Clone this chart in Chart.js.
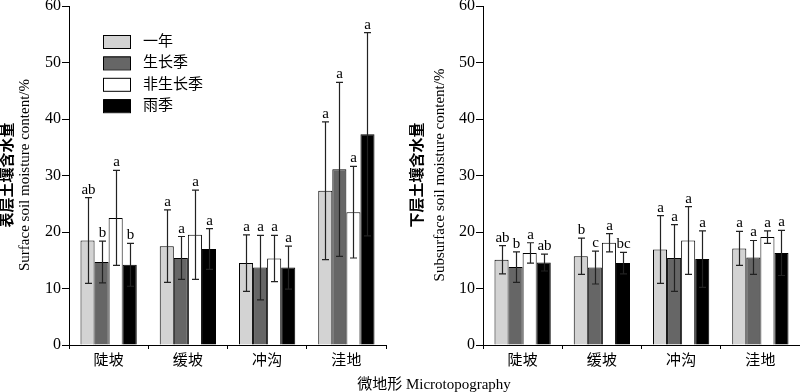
<!DOCTYPE html>
<html>
<head>
<meta charset="utf-8">
<script src="https://cdn.jsdelivr.net/npm/chart.js@4/dist/chart.umd.min.js"></script>
<style>
  body { margin: 0; background: #fff; }
  #wrap { position: relative; width: 800px; height: 392px; overflow: hidden; }
  .panel { position: absolute; top: 0; width: 400px; height: 392px; }
  #xTitle {
    position: absolute; left: 0; width: 868px; top: 372px; text-align: center;
    font: 15px "Liberation Serif", "Noto Sans CJK SC", serif; color: #000;
  }
</style>
</head>
<body>
<div id="wrap">
  <div class="panel" style="left:0"><canvas id="surface" width="400" height="392"></canvas></div>
  <div class="panel" style="left:400px"><canvas id="subsurface" width="400" height="392"></canvas></div>
  <div id="xTitle">微地形 Microtopography</div>
</div>
<script>
const categories = ["陡坡", "缓坡", "冲沟", "洼地"];
const seasons = ["一年", "生长季", "非生长季", "雨季"];
const seasonColors = ["#d3d3d3", "#666666", "#ffffff", "#000000"];

// rows = seasons, columns = microtopography
const surfaceMean = [
  [18.5, 17.5, 14.5, 27.3],
  [14.7, 15.4, 13.7, 31.1],
  [22.5, 19.5, 15.3, 23.5],
  [14.2, 17.0, 13.7, 37.3]
];
const surfaceSD = [
  [7.6, 6.4, 5.0, 12.2],
  [3.7, 3.8, 5.7, 15.4],
  [8.4, 7.9, 4.1, 8.1],
  [3.8, 3.6, 3.8, 18.0]
];
const surfaceLetters = [
  ["ab", "a", "a", "a"],
  ["b", "a", "a", "a"],
  ["a", "a", "a", "a"],
  ["b", "a", "a", "a"]
];

const subsurfaceMean = [
  [15.1, 15.7, 16.9, 17.1],
  [13.8, 13.7, 15.4, 15.5],
  [16.3, 18.1, 18.5, 19.1],
  [14.6, 14.5, 15.2, 16.3]
];
const subsurfaceSD = [
  [2.5, 3.2, 6.0, 3.0],
  [2.7, 2.9, 5.9, 3.0],
  [1.8, 1.6, 6.0, 1.1],
  [1.5, 1.9, 5.0, 4.0]
];
const subsurfaceLetters = [
  ["ab", "b", "a", "a"],
  ["b", "c", "a", "a"],
  ["a", "a", "a", "a"],
  ["ab", "bc", "a", "a"]
];

const yMin = 0, yMax = 60, yStep = 10;
const FONT = '"Liberation Serif", "Noto Sans CJK SC", serif';

// error bars + significance letters
const errorBars = {
  id: "errorBars",
  afterDatasetsDraw(chart) {
    const ctx = chart.ctx;
    const yScale = chart.scales.y;
    ctx.save();
    chart.data.datasets.forEach((ds, i) => {
      const meta = chart.getDatasetMeta(i);
      meta.data.forEach((bar, j) => {
        const hi = yScale.getPixelForValue(ds.data[j] + ds.sd[j]);
        const lo = yScale.getPixelForValue(ds.data[j] - ds.sd[j]);
        const x = Math.round(bar.x) + 0.5;
        ctx.strokeStyle = "#222";
        ctx.lineWidth = 1.2;
        ctx.beginPath();
        ctx.moveTo(x, hi); ctx.lineTo(x, lo);
        ctx.moveTo(x - 3.5, hi); ctx.lineTo(x + 3.5, hi);
        ctx.moveTo(x - 3.5, lo); ctx.lineTo(x + 3.5, lo);
        ctx.stroke();
        ctx.fillStyle = "#000";
        ctx.font = "15px " + FONT;
        ctx.textAlign = "center";
        ctx.textBaseline = "alphabetic";
        ctx.fillText(ds.letters[j], x, hi - 4);
      });
    });
    ctx.restore();
  }
};

// two-line rotated y title
const sideTitle = {
  id: "sideTitle",
  afterDraw(chart, args, opts) {
    const ctx = chart.ctx;
    ctx.save();
    ctx.fillStyle = "#000";
    ctx.textAlign = "center";
    ctx.textBaseline = "middle";
    ctx.translate(opts.xZh, 175);
    ctx.rotate(-Math.PI / 2);
    ctx.font = "bold 15px " + FONT;
    ctx.fillText(opts.zh, 0, 0);
    ctx.restore();
    ctx.save();
    ctx.fillStyle = "#000";
    ctx.textAlign = "center";
    ctx.textBaseline = "middle";
    ctx.translate(opts.xEn, 175);
    ctx.rotate(-Math.PI / 2);
    ctx.font = "15px " + FONT;
    ctx.fillText(opts.en, 0, 0);
    ctx.restore();
  }
};

const boxLegend = {
  id: "boxLegend",
  afterDraw(chart, args, opts) {
    if (!opts.show) return;
    const ctx = chart.ctx;
    ctx.save();
    chart.data.datasets.forEach((ds, i) => {
      const top = 35 + i * 21.4;
      ctx.fillStyle = ds.backgroundColor;
      ctx.fillRect(103.5, top, 27, 13);
      ctx.strokeStyle = "#000";
      ctx.lineWidth = 1;
      ctx.strokeRect(103.5, top + 0.5, 27, 13);
      ctx.fillStyle = "#000";
      ctx.font = "15px " + FONT;
      ctx.textAlign = "left";
      ctx.textBaseline = "middle";
      ctx.fillText(ds.label, 143, top + 7);
    });
    ctx.restore();
  }
};

function makeChart(canvasId, means, sds, letters, yWidth, padRight, title) {
  const datasets = seasons.map((s, i) => ({
    label: s,
    data: means[i],
    sd: sds[i],
    letters: letters[i],
    backgroundColor: seasonColors[i],
    borderColor: "#000",
    borderWidth: 1,
    categoryPercentage: 0.71,
    barPercentage: 1.0
  }));

  return new Chart(document.getElementById(canvasId).getContext("2d"), {
    type: "bar",
    data: { labels: categories, datasets: datasets },
    options: {
      responsive: false,
      animation: false,
      devicePixelRatio: 1,
      layout: { padding: { top: 6, right: padRight, left: 0, bottom: 0 } },
      plugins: {
        legend: { display: false },
        tooltip: { enabled: false },
        sideTitle: title,
        boxLegend: { show: canvasId === "surface" }
      },
      scales: {
        x: {
          grid: { drawOnChartArea: false, offset: true, tickLength: 4, color: "#000" },
          border: { color: "#000", width: 1 },
          ticks: { color: "#000", font: { family: FONT, size: 15 }, padding: 3 },
          afterFit: (s) => { s.height = 47; s.paddingLeft = 0; s.paddingRight = 0; }
        },
        y: {
          min: yMin,
          max: yMax,
          ticks: { stepSize: yStep, color: "#000", font: { family: FONT, size: 16 }, padding: 1 },
          grid: { drawOnChartArea: false, tickLength: 7, color: "#000" },
          border: { color: "#000", width: 1 },
          afterFit: (s) => { s.width = yWidth; s.paddingTop = 0; s.paddingBottom = 0; }
        }
      }
    },
    plugins: [errorBars, sideTitle, boxLegend]
  });
}

document.addEventListener("DOMContentLoaded", () => {
  makeChart("surface", surfaceMean, surfaceSD, surfaceLetters, 69, 14,
    { zh: "表层土壤含水量", en: "Surface soil moisture content/%", xZh: 8, xEn: 25 });
  makeChart("subsurface", subsurfaceMean, subsurfaceSD, subsurfaceLetters, 83, 0,
    { zh: "下层土壤含水量", en: "Subsurface soil moisture content/%", xZh: 18, xEn: 40 });
});
</script>
</body>
</html>
